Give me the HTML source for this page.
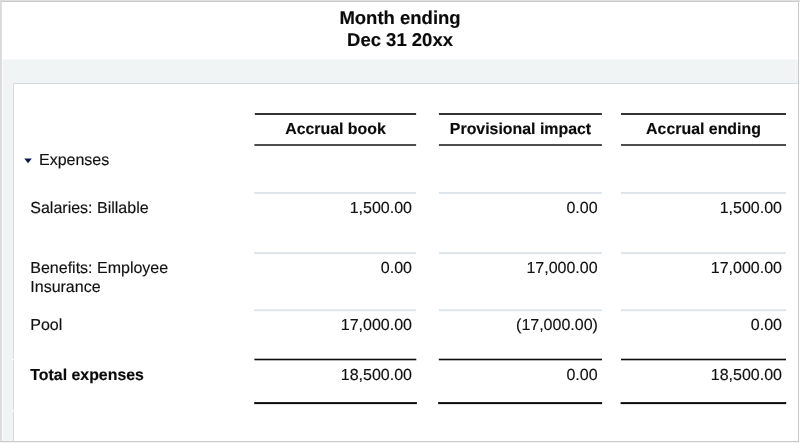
<!DOCTYPE html>
<html>
<head>
<meta charset="utf-8">
<title>Month ending</title>
<style>
html,body{margin:0;padding:0;}
body{-webkit-text-stroke:0.15px #111;text-rendering:geometricPrecision;width:800px;height:443px;overflow:hidden;position:relative;background:#fff;font-family:"Liberation Sans",Arial,Helvetica,sans-serif;color:#111;}
.abs{position:absolute;}
#band{left:2px;top:60px;width:796px;height:381px;background:#f1f4f5;}
#bandEdge{left:2px;top:59px;width:796px;height:1px;background:#f7f9fa;}
#panel{left:13px;top:83px;width:785px;height:358px;background:#fff;border-left:1px solid #d3dce1;border-top:1px solid #d3dce1;box-sizing:border-box;}
#lines{left:0;top:0;}
.title{left:0;width:800px;text-align:center;font-weight:bold;font-size:18.5px;line-height:22px;color:#0a0a0a;}
.hd{font-weight:bold;font-size:15.9px;text-align:center;line-height:20px;color:#0a0a0a;}
.lbl{font-size:16px;line-height:19.4px;left:30.3px;white-space:nowrap;}
.num{font-size:16px;line-height:19px;text-align:right;white-space:nowrap;}
</style>
</head>
<body>
<div class="abs" id="band"></div>
<div class="abs" id="bandEdge"></div>
<div class="abs" id="panel"></div>

<svg class="abs" id="lines" width="800" height="443" viewBox="0 0 800 443">
  <!-- outer frame -->
  <rect x="0" y="0" width="800" height="1.6" fill="#e0e0e0"/>
  <rect x="1" y="1.25" width="798" height="0.75" fill="#c2c2c2"/>
  <rect x="0" y="0" width="1.8" height="443" fill="#d9d9d9"/>
  <rect x="798" y="1" width="0.9" height="441" fill="#c4c4c4"/>
  <rect x="1" y="441" width="798" height="0.9" fill="#c4c4c4"/>
  <rect x="0" y="442" width="800" height="1" fill="#f4f4f4"/>
  <!-- header rules -->
  <g fill="#1e1e1e">
    <rect x="254.8" y="113.1" width="161.3" height="1.8"/>
    <rect x="438.9" y="113.1" width="163" height="1.8"/>
    <rect x="621" y="113.1" width="165" height="1.8"/>
  </g>
  <g fill="#3a3a3a">
    <rect x="254.4" y="144.1" width="161.7" height="1.8"/>
    <rect x="438.9" y="144.1" width="163" height="1.8"/>
    <rect x="621" y="144.1" width="165" height="1.8"/>
  </g>
  <!-- light row rules -->
  <g fill="#dde4e9">
    <rect x="254.2" y="192" width="162" height="1.9"/>
    <rect x="438.9" y="192" width="163" height="1.9"/>
    <rect x="621" y="192" width="165" height="1.9"/>
    <rect x="254.2" y="252.2" width="162" height="1.9"/>
    <rect x="438.9" y="252.2" width="163" height="1.9"/>
    <rect x="621" y="252.2" width="165" height="1.9"/>
    <rect x="254.2" y="309.3" width="162" height="1.9"/>
    <rect x="438.9" y="309.3" width="163" height="1.9"/>
    <rect x="621" y="309.3" width="165" height="1.9"/>
  </g>
  <!-- total rules -->
  <g fill="#0c0c0c">
    <rect x="254.4" y="358.7" width="161.9" height="1.6"/>
    <rect x="438.8" y="358.7" width="163.2" height="1.6"/>
    <rect x="621" y="358.7" width="165" height="1.6"/>
    <rect x="254.2" y="402.1" width="162.7" height="2"/>
    <rect x="438.1" y="402.1" width="164" height="2"/>
    <rect x="620.6" y="402.1" width="165.6" height="2"/>
  </g>
  <!-- tiny seams in panel border -->
  <rect x="11.8" y="358.9" width="2.4" height="1.3" fill="#fff" opacity="0.85"/>
  <rect x="11.8" y="410.1" width="2.4" height="1.3" fill="#fff" opacity="0.85"/>
  <rect x="2" y="60" width="0.9" height="381" fill="#fff" opacity="0.55"/>
  <!-- disclosure triangle -->
  <path d="M24.3 158.4 L31.8 158.4 L28.05 163.3 Z" fill="#10144f"/>
</svg>

<div class="abs title" style="top:7px;">Month ending</div>
<div class="abs title" style="top:29px;">Dec 31 20xx</div>

<div class="abs hd" style="left:255px;width:161px;top:120px;">Accrual book</div>
<div class="abs hd" style="left:439px;width:163px;top:120px;">Provisional impact</div>
<div class="abs hd" style="left:621px;width:165px;top:120px;">Accrual ending</div>

<div class="abs lbl" style="left:39px;top:151px;">Expenses</div>

<div class="abs lbl" style="top:199px;">Salaries: Billable</div>
<div class="abs num" style="left:255px;width:157px;top:199px;">1,500.00</div>
<div class="abs num" style="left:439px;width:158.6px;top:199px;">0.00</div>
<div class="abs num" style="left:621px;width:161px;top:199px;">1,500.00</div>

<div class="abs lbl" style="top:259px;">Benefits: Employee<br>Insurance</div>
<div class="abs num" style="left:255px;width:157px;top:259px;">0.00</div>
<div class="abs num" style="left:439px;width:158.6px;top:259px;">17,000.00</div>
<div class="abs num" style="left:621px;width:161px;top:259px;">17,000.00</div>

<div class="abs lbl" style="top:316px;">Pool</div>
<div class="abs num" style="left:255px;width:157px;top:316px;">17,000.00</div>
<div class="abs num" style="left:439px;width:158.9px;top:316px;">(17,000.00)</div>
<div class="abs num" style="left:621px;width:161px;top:316px;">0.00</div>

<div class="abs lbl" style="top:366px;font-weight:bold;font-size:15.9px;color:#0a0a0a;">Total expenses</div>
<div class="abs num" style="left:255px;width:157px;top:366px;">18,500.00</div>
<div class="abs num" style="left:439px;width:158.6px;top:366px;">0.00</div>
<div class="abs num" style="left:621px;width:161px;top:366px;">18,500.00</div>
</body>
</html>
